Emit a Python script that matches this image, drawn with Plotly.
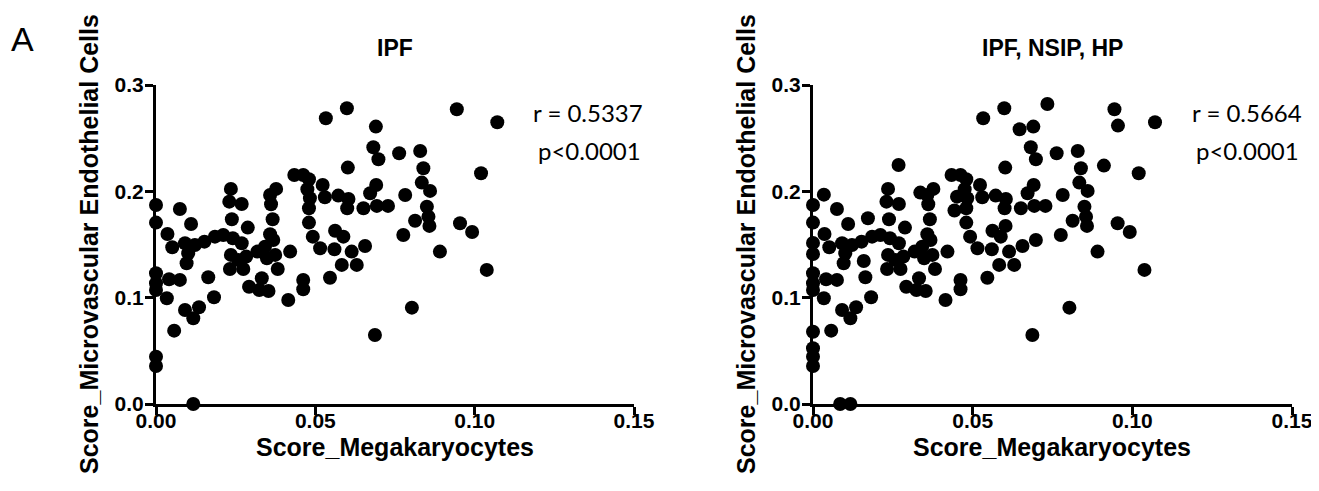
import plotly.graph_objects as go

# IPF samples (Score_Megakaryocytes, Score_Microvascular Endothelial Cells)
ipf_x = [
    0.0, 0.0, 0.0036, 0.0075, 0.0110, 0.0235, 0.0230, 0.0269, 0.0238, 0.0288,
    0.0358, 0.0377, 0.0361, 0.0366, 0.0358, 0.0434, 0.0462, 0.0480, 0.0475, 0.0483,
    0.0480, 0.0480, 0.0492, 0.0523, 0.0530, 0.0533, 0.0599, 0.0602, 0.0572, 0.0604,
    0.0600, 0.0562, 0.0588, 0.0690, 0.0682, 0.0698, 0.0691, 0.0672, 0.0651, 0.0693,
    0.0728, 0.0656, 0.0051, 0.0091, 0.0101, 0.0096, 0.0122, 0.0152, 0.0185, 0.0211,
    0.0241, 0.0269, 0.0235, 0.0258, 0.0283, 0.0232, 0.0274, 0.0318, 0.0342, 0.0368,
    0.0348, 0.0374, 0.0382, 0.0421, 0.0332, 0.0292, 0.0324, 0.0353, 0.0164, 0.0075,
    0.0041, 0.0, 0.0, 0.0, 0.0034, 0.0182, 0.0415, 0.0462, 0.0462, 0.0546,
    0.0515, 0.0560, 0.0614, 0.0583, 0.0630, 0.0782, 0.0850, 0.0855, 0.0858, 0.0813,
    0.0776, 0.0891, 0.0954, 0.0992, 0.0860, 0.0091, 0.0117, 0.0135, 0.0057, 0.0,
    0.0, 0.0117, 0.0687, 0.0944, 0.1071, 0.1020, 0.0763, 0.0829, 0.0839, 0.0834,
    0.1038, 0.0803,
]
ipf_y = [
    0.1872, 0.1706, 0.1599, 0.1834, 0.1693, 0.2023, 0.1903, 0.1881, 0.1738, 0.1659,
    0.1966, 0.2023, 0.1879, 0.1738, 0.1596, 0.2154, 0.2154, 0.2114, 0.2020, 0.1935,
    0.1841, 0.1706, 0.1574, 0.2060, 0.1945, 0.2688, 0.2782, 0.2223, 0.1960, 0.1928,
    0.1841, 0.1630, 0.1574, 0.2609, 0.2415, 0.2302, 0.2060, 0.1982, 0.1841, 0.1863,
    0.1863, 0.1486, 0.1474, 0.1512, 0.1418, 0.1324, 0.1496, 0.1527, 0.1574, 0.1590,
    0.1559, 0.1512, 0.1402, 0.1355, 0.1386, 0.1270, 0.1270, 0.1433, 0.1480, 0.1543,
    0.1371, 0.1402, 0.1270, 0.1433, 0.1183, 0.1103, 0.1072, 0.1063, 0.1192, 0.1167,
    0.1173, 0.1230, 0.1135, 0.1072, 0.0994, 0.1004, 0.0978, 0.1167, 0.1079, 0.1188,
    0.1465, 0.1455, 0.1433, 0.1308, 0.1308, 0.1966, 0.1856, 0.1762, 0.1675, 0.1724,
    0.1590, 0.1433, 0.1700, 0.1618, 0.2004, 0.0884, 0.0806, 0.0910, 0.0690, 0.0445,
    0.0357, 0.0, 0.0649, 0.2772, 0.2650, 0.2170, 0.2358, 0.2380, 0.2217, 0.2082,
    0.1261, 0.0906,
]

# additional NSIP and HP samples (shown only in the combined panel)
other_x = [
    0.0034, 0.0268, 0.0172, 0.0336, 0.0451, 0.0443, 0.0603, 0.0647, 0.0, 0.0,
    0.0159, 0.0, 0.0, 0.0085, 0.0734, 0.0955, 0.0911, 0.0698,
]
other_y = [
    0.1969, 0.2248, 0.1747, 0.1988, 0.1950, 0.1820, 0.1675, 0.2584, 0.1515, 0.1411,
    0.1345, 0.0680, 0.0524, 0.0, 0.2822, 0.2618, 0.2242, 0.1543,
]

x_ticks = [0, 0.05, 0.10, 0.15]
x_tick_labels = ["0.00", "0.05", "0.10", "0.15"]
y_ticks = [0, 0.1, 0.2, 0.3]
y_tick_labels = ["0.0", "0.1", "0.2", "0.3"]

panel_titles = ["IPF", "IPF, NSIP, HP"]
stats_r = ["r = 0.5337", "r = 0.5664"]
stats_p = ["p<0.0001", "p<0.0001"]

W, H = 1319, 491
OFF = 8  # the page body adds an 8px margin around the plot div
AXIS_FONT = "Liberation Sans, Arial, sans-serif"


def fx(px):
    return (px - OFF) / W


def fy(py):
    return (H - (py - OFF)) / H


fig = go.Figure()

marker = dict(color="black", size=14, line=dict(width=0))

fig.add_trace(go.Scatter(
    x=ipf_x, y=ipf_y, mode="markers", marker=marker,
    cliponaxis=False, xaxis="x", yaxis="y", showlegend=False,
))
fig.add_trace(go.Scatter(
    x=ipf_x + other_x, y=ipf_y + other_y, mode="markers", marker=marker,
    cliponaxis=False, xaxis="x2", yaxis="y2", showlegend=False,
))

x_domains = [(fx(156), fx(634)), (fx(813), fx(1292))]
y_domain = [fy(404), fy(85)]

axis_common = dict(
    showline=True, linecolor="black", linewidth=3,
    ticks="outside", ticklen=8, tickwidth=3, tickcolor="black",
    showgrid=False, zeroline=False, automargin=False,
    tickfont=dict(family=AXIS_FONT, size=21, color="black"),
)
x_axis = dict(range=[0, 0.15], tickvals=x_ticks, ticklabelstandoff=-12,
              ticktext=[f"<b>{t}</b>" for t in x_tick_labels], **axis_common)
y_axis = dict(range=[0, 0.3], tickvals=y_ticks, ticklabelstandoff=-3,
              ticktext=[f"<b>{t}</b>" for t in y_tick_labels], **axis_common)

fig.update_layout(
    width=W, height=H,
    margin=dict(l=0, r=0, t=0, b=0, pad=0, autoexpand=False),
    plot_bgcolor="white", paper_bgcolor="white",
    xaxis=dict(domain=x_domains[0], anchor="y", **x_axis),
    yaxis=dict(domain=y_domain, anchor="x", **y_axis),
    xaxis2=dict(domain=x_domains[1], anchor="y2", **x_axis),
    yaxis2=dict(domain=y_domain, anchor="x2", **y_axis),
)

annotations = []
for i, (x0, x1) in enumerate(x_domains):
    xc = (x0 + x1) / 2
    shift = 657 * i
    annotations.append(dict(
        text=f"<b>{panel_titles[i]}</b>", x=xc, y=fy(48),
        font=dict(family=AXIS_FONT, size=23, color="black"),
    ))
    annotations.append(dict(
        text="<b>Score_Megakaryocytes</b>", x=xc, y=fy(447),
        font=dict(family=AXIS_FONT, size=25, color="black"),
    ))
    annotations.append(dict(
        text="<b>Score_Microvascular Endothelial Cells</b>", textangle=-90,
        x=fx(89 + shift), y=fy(244),
        font=dict(family=AXIS_FONT, size=25, color="black"),
    ))
    annotations.append(dict(
        text=stats_r[i], x=fx(588 + shift + 2 * i), y=fy(112),
        font=dict(family="Lato, sans-serif", size=24, color="black"),
    ))
    annotations.append(dict(
        text=stats_p[i], x=fx(589 + shift + i), y=fy(150),
        font=dict(family="Lato, sans-serif", size=24, color="black"),
    ))

annotations.append(dict(
    text="A", x=fx(22), y=fy(39),
    font=dict(family=AXIS_FONT, size=34, color="black"),
))

for a in annotations:
    a.update(xref="paper", yref="paper", showarrow=False,
             xanchor="center", yanchor="middle")
fig.update_layout(annotations=annotations)

fig.write_html("out.html")
